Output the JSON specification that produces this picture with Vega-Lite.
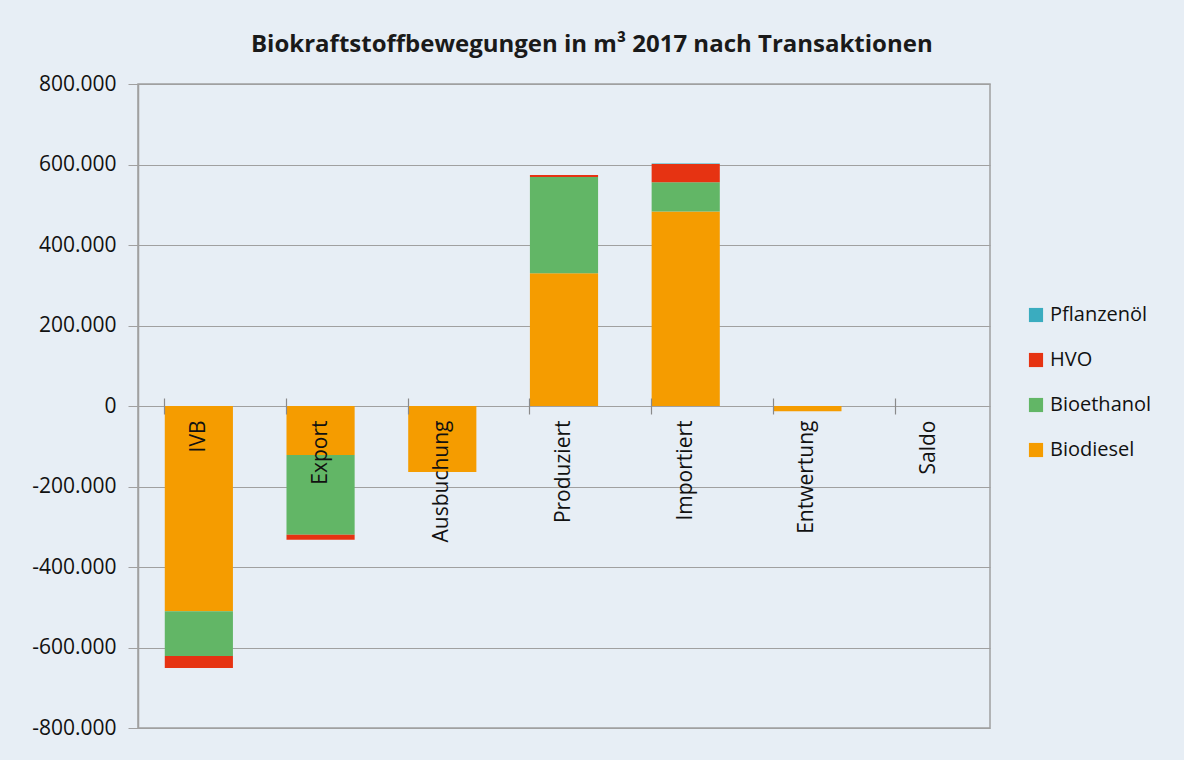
{
  "$schema": "https://vega.github.io/schema/vega-lite/v6.json",
  "width": 852,
  "height": 644,
  "autosize": {"type": "none"},
  "padding": {"left": 138, "top": 84, "right": 194, "bottom": 32},
  "background": "#E7EEF5",
  "config": {
    "locale": {"number": {"decimal": ",", "thousands": ".", "grouping": [3], "currency": ["", " €"], "minus": "-"}},
    "view": {"stroke": "#A0A0A0", "strokeWidth": 1.5, "fill": "#E7EEF5"},
    "font": "Open Sans"
  },
  "title": {
    "text": "Biokraftstoffbewegungen in m³ 2017 nach Transaktionen",
    "font": "Open Sans",
    "fontSize": 24,
    "fontWeight": "bold",
    "color": "#1a1a1a",
    "anchor": "middle",
    "frame": "bounds",
    "offset": 16
  },
  "data": {
    "values": [
      {"Transaktion": "IVB", "Kraftstoff": "Biodiesel", "m3": -510000},
      {"Transaktion": "IVB", "Kraftstoff": "Bioethanol", "m3": -111000},
      {"Transaktion": "IVB", "Kraftstoff": "HVO", "m3": -30000},
      {"Transaktion": "Export", "Kraftstoff": "Biodiesel", "m3": -122000},
      {"Transaktion": "Export", "Kraftstoff": "Bioethanol", "m3": -198000},
      {"Transaktion": "Export", "Kraftstoff": "HVO", "m3": -12000},
      {"Transaktion": "Ausbuchung", "Kraftstoff": "Biodiesel", "m3": -164000},
      {"Transaktion": "Produziert", "Kraftstoff": "Biodiesel", "m3": 330000},
      {"Transaktion": "Produziert", "Kraftstoff": "Bioethanol", "m3": 239000},
      {"Transaktion": "Produziert", "Kraftstoff": "HVO", "m3": 5000},
      {"Transaktion": "Importiert", "Kraftstoff": "Biodiesel", "m3": 483000},
      {"Transaktion": "Importiert", "Kraftstoff": "Bioethanol", "m3": 73000},
      {"Transaktion": "Importiert", "Kraftstoff": "HVO", "m3": 45000},
      {"Transaktion": "Importiert", "Kraftstoff": "Pflanzenöl", "m3": 1500},
      {"Transaktion": "Entwertung", "Kraftstoff": "Biodiesel", "m3": -13000}
    ]
  },
  "mark": {"type": "bar"},
  "encoding": {
    "x": {
      "field": "Transaktion",
      "type": "nominal",
      "sort": null,
      "scale": {"domain": ["IVB", "Export", "Ausbuchung", "Produziert", "Importiert", "Entwertung", "Saldo"], "paddingInner": 0.44, "paddingOuter": 0.22},
      "axis": {
        "title": null,
        "offset": -330,
        "zindex": 1,
        "domain": false,
        "bandPosition": 0,
        "ticks": true,
        "tickSize": 16,
        "tickColor": "#8a8a8a",
        "tickWidth": 1.2,
        "labelAngle": -90,
        "labelPadding": 6,
        "labelFontSize": 21,
        "labelColor": "#111111",
        "labelFont": "Open Sans"
      }
    },
    "y": {
      "field": "m3",
      "type": "quantitative",
      "stack": "zero",
      "scale": {"domain": [-800000, 800000], "nice": false},
      "axis": {
        "title": null,
        "values": [-800000, -600000, -400000, -200000, 0, 200000, 400000, 600000, 800000],
        "format": ",d",
        "grid": true,
        "gridColor": "#A0A0A0",
        "gridWidth": 1.2,
        "domainColor": "#A0A0A0",
        "domainWidth": 1.5,
        "tickColor": "#A0A0A0",
        "tickSize": 10,
        "labelPadding": 12,
        "labelFontSize": 21,
        "labelColor": "#111111",
        "labelFont": "Open Sans"
      }
    },
    "color": {
      "field": "Kraftstoff",
      "type": "nominal",
      "scale": {
        "domain": ["Pflanzenöl", "HVO", "Bioethanol", "Biodiesel"],
        "range": ["#3AACBF", "#E63312", "#62B666", "#F59C00"]
      },
      "legend": {
        "title": null,
        "orient": "none",
        "legendX": 888,
        "legendY": 221,
        "symbolType": "square",
        "symbolSize": 200,
        "symbolStrokeWidth": 0,
        "labelFontSize": 20,
        "labelColor": "#111111",
        "labelFont": "Open Sans",
        "labelOffset": 4,
        "rowPadding": 25,
        "padding": 0
      }
    },
    "order": {"field": "Kraftstoff", "sort": "ascending"}
  }
}
